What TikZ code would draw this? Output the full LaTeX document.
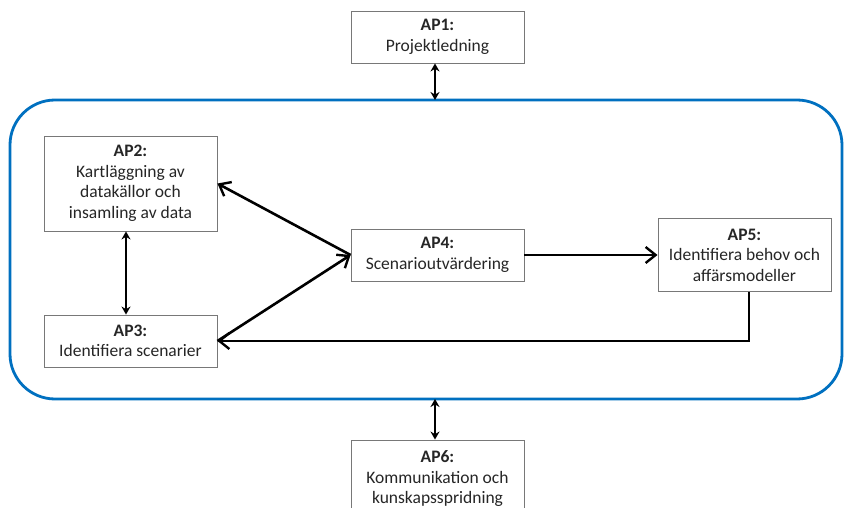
\documentclass[tikz,border=0pt]{standalone}
\usepackage{fontspec}
\setmainfont{Carlito}
\usetikzlibrary{arrows.meta}
\definecolor{boxgray}{RGB}{120,120,120}
\definecolor{frameblue}{RGB}{0,112,192}
\begin{document}
\begin{tikzpicture}[x=1pt,y=-1pt,
  wp/.style={draw=boxgray,line width=0.9pt,fill=white,inner sep=0pt,align=center,
    font=\fontsize{17.5}{20.5}\selectfont,text=black!85},
  conn/.style={line width=2.6pt,-{Straight Barb[length=10pt,width=16pt,line width=2.4pt]}},
  dbl/.style={line width=2.4pt,{Stealth[length=8pt,width=9pt]}-{Stealth[length=8pt,width=9pt]}}]
\useasboundingbox (0,0) rectangle (852,508);
\fill[white] (0,0) rectangle (852,508);
\draw[frameblue,line width=2.8pt,rounded corners=45pt] (10,100) rectangle (842,399);
\coordinate (btop) at (435,100);
\coordinate (bbot) at (435,399);
\node[wp,minimum width=173pt,minimum height=52pt] (ap1) at (437.5,37) {\textbf{AP1:}\\Projektledning};
\node[wp,minimum width=173pt,minimum height=95pt] (ap2) at (130.5,183.5) {\textbf{AP2:}\\Kartläggning av\\datakällor och\\insamling av data};
\node[wp,minimum width=173pt,minimum height=52pt] (ap3) at (130.5,341) {\textbf{AP3:}\\Identifiera scenarier};
\node[wp,minimum width=173pt,minimum height=52pt] (ap4) at (437.5,255) {\textbf{AP4:}\\Scenarioutvärdering};
\node[wp,minimum width=173pt,minimum height=73pt] (ap5) at (744.5,255) {\textbf{AP5:}\\Identifiera behov och\\affärsmodeller};
\node[wp,minimum width=173pt,minimum height=78pt] (ap6) at (437.5,479) {\textbf{AP6:}\\Kommunikation och\\kunskapsspridning};
\draw[dbl] (ap1.south -| btop) -- (btop);
\draw[dbl] (bbot) -- (ap6.north -| bbot);
\draw[dbl] ([xshift=-4.5pt]ap2.south) -- ([xshift=-4.5pt]ap3.north);
\draw[conn] (ap4.west) -- (ap2.east);
\draw[conn] (ap3.east) -- (ap4.west);
\draw[conn] (ap4.east) -- (ap5.west);
\coordinate (ap5s) at ([xshift=4.5pt]ap5.south);
\draw[conn] (ap5s) -- (ap5s |- ap3.east) -- (ap3.east);
\end{tikzpicture}
\end{document}
